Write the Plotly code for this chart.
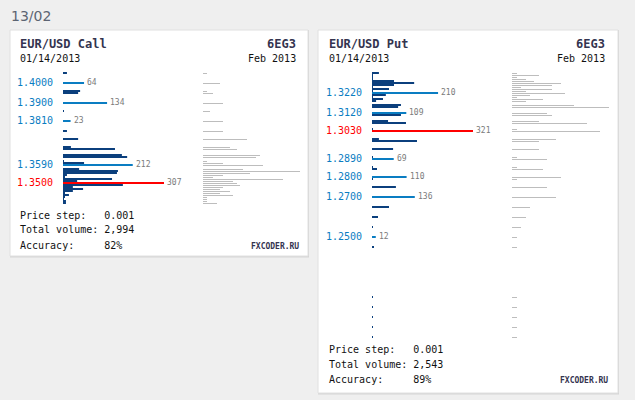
import plotly.graph_objects as go

W, H = 635, 400

# ---- data: EUR/USD Call (6EG3) ----
call_prices = [1.405, 1.400, 1.396, 1.395, 1.390, 1.386, 1.381, 1.376, 1.372, 1.368,
               1.367, 1.364, 1.363, 1.361, 1.360, 1.359, 1.357, 1.356, 1.355, 1.354,
               1.353, 1.352, 1.351, 1.350, 1.349, 1.348, 1.347, 1.346, 1.345, 1.344,
               1.343, 1.342, 1.341, 1.340]
call_volume = [12, 64, 52, 46, 134, 3, 23, 12, 46, 24,
               158, 179, 195, 3, 64, 212, 49, 167, 164, 12,
               6, 149, 43, 307, 182, 30, 61, 30, 6, 18,
               6, 3, 9, 9]
call_oi = [4, 17, 4, 10, 20, 7, 20, 20, 44, 27,
           34, 57, 53, 4, 20, 60, 40, 97, 47, 20,
           10, 80, 30, 34, 37, 20, 17, 27, 17, 30,
           4, 4, 4, 14]
call_marked = [1.400, 1.390, 1.381, 1.359]

# ---- data: EUR/USD Put (6EG3) ----
put_prices = [1.332, 1.331, 1.330, 1.329, 1.328, 1.327, 1.326, 1.325, 1.324, 1.323,
              1.322, 1.321, 1.320, 1.319, 1.318, 1.316, 1.315, 1.312, 1.311, 1.308,
              1.307, 1.304, 1.303, 1.299, 1.298, 1.294, 1.290, 1.289, 1.285, 1.284,
              1.280, 1.279, 1.275, 1.270, 1.265, 1.260, 1.255, 1.250, 1.245, 1.220,
              1.215, 1.210, 1.205, 1.200]
put_volume = [22, 3, 3, 3, 70, 134, 70, 3, 54, 3,
              210, 44, 3, 35, 13, 92, 83, 109, 92, 51,
              108, 3, 321, 22, 143, 67, 3, 69, 3, 16,
              110, 3, 76, 136, 54, 19, 3, 12, 6, 3,
              3, 3, 3, 3]
put_oi = [5, 27, 5, 14, 22, 49, 40, 9, 40, 14,
          53, 18, 5, 31, 14, 62, 97, 35, 40, 27,
          75, 5, 88, 44, 27, 27, 5, 35, 5, 31,
          49, 5, 35, 44, 18, 14, 9, 5, 5, 5,
          5, 5, 5, 5]
put_marked = [1.322, 1.312, 1.289, 1.280, 1.270, 1.250]

DARK = "#0b3f7d"
LIGHT = "#0a7dc2"
RED = "#ff0000"
GREY = "#bdbdbd"
MONO = "DejaVu Sans Mono"


def px(x):
    return x / W


def py(y):
    return 1 - y / H


def colors(prices, vols, marked):
    top = prices[vols.index(max(vols))]
    out = []
    for p in prices:
        if p == top:
            out.append(RED)
        elif p in marked:
            out.append(LIGHT)
        else:
            out.append(DARK)
    return out


fig = go.Figure()

panels = [
    # prices, volume, oi, marked, x-axis blue, x-axis grey, y-axis
    (call_prices, call_volume, call_oi, call_marked, "x", "x2", "y"),
    (put_prices, put_volume, put_oi, put_marked, "x3", "x4", "y3"),
]

for prices, vols, oi, marked, xb, xg, ya in panels:
    cols = colors(prices, vols, marked)
    fig.add_trace(go.Bar(y=prices, x=vols, orientation="h", width=0.001,
                         marker=dict(color=cols, line=dict(width=0)),
                         xaxis=xb, yaxis=ya, hoverinfo="x+y"))
    # 1px grey line, top half of each price row
    fig.add_trace(go.Bar(y=prices, x=oi, orientation="h", width=0.0005, offset=-0.0005,
                         marker=dict(color=GREY, line=dict(width=0)),
                         xaxis=xg, yaxis=ya, hoverinfo="x+y"))
    for p, v, c in zip(prices, vols, cols):
        if c == DARK:
            continue
        # value label next to the bar
        fig.add_annotation(x=v, y=p, xref=xb, yref=ya, text=str(v), showarrow=False,
                           xanchor="left", yanchor="middle", xshift=1,
                           font=dict(family=MONO, size=8, color="#7a7a7a"))

# price labels
for prices, vols, marked, ya, xr in [(call_prices, call_volume, call_marked, "y", 55),
                                     (put_prices, put_volume, put_marked, "y3", 364)]:
    top = prices[vols.index(max(vols))]
    for p in marked + [top]:
        fig.add_annotation(x=px(xr), y=p, xref="paper", yref=ya, text=f"{p:.4f}",
                           showarrow=False, xanchor="right", yanchor="middle",
                           font=dict(family=MONO, size=10, color=RED if p == top else LIGHT))

# cards
shapes = []
for x0, y0, x1, y1 in [(10, 30, 308, 256), (318, 30, 618, 393)]:
    shapes.append(dict(type="rect", xref="paper", yref="paper", layer="below",
                       x0=px(x0), x1=px(x1 + 1), y0=py(y1 + 1.5), y1=py(y0),
                       fillcolor="#d6d6d6", line=dict(width=0)))
    shapes.append(dict(type="rect", xref="paper", yref="paper", layer="below",
                       x0=px(x0), x1=px(x1), y0=py(y1), y1=py(y0),
                       fillcolor="white", line=dict(color="#e0e0e0", width=1)))


def text(x, y, s, anchor="left", size=10, color="#111111", family=MONO):
    fig.add_annotation(x=px(x), y=py(y), xref="paper", yref="paper", text=s,
                       showarrow=False, xanchor=anchor, yanchor="middle",
                       font=dict(family=family, size=size, color=color))


text(9, 16, "13/02", size=14, color="#5c6472", family="DejaVu Sans")

cards = [
    (18, 298, "EUR/USD Call", 215, "2,994", "82%", 301, 246),
    (327, 607, "EUR/USD Put", 349, "2,543", "89%", 610, 380),
]
for xl, xr, title, yb, total, acc, xf, yf in cards:
    text(xl, 44, f"<b>{title}</b>", size=12, color="#34344f")
    text(xr, 44, "<b>6EG3</b>", anchor="right", size=12, color="#34344f")
    text(xl, 58, "01/14/2013")
    text(xr, 58, "Feb 2013", anchor="right")
    text(xl, yb, "Price step:   0.001")
    text(xl, yb + 15, "Total volume: " + total)
    text(xl, yb + 30, "Accuracy:     " + acc)
    text(xf, yf, "<b>FXCODER.RU</b>", anchor="right", size=8, color="#34344f")

hidden = dict(visible=False, fixedrange=True)
fig.update_layout(
    width=W, height=H, margin=dict(l=0, r=0, t=0, b=0),
    paper_bgcolor="#efefef", plot_bgcolor="rgba(0,0,0,0)",
    showlegend=False, barmode="overlay", shapes=shapes,
    xaxis=dict(domain=[px(63), px(164)], range=[0, max(call_volume)], anchor="y", **hidden),
    xaxis2=dict(domain=[px(203), px(303)], range=[0, 100], anchor="y", **hidden),
    yaxis=dict(domain=[py(204), py(72)], range=[1.3395, 1.4055], anchor="x", **hidden),
    xaxis3=dict(domain=[px(372), px(473)], range=[0, max(put_volume)], anchor="y3", **hidden),
    xaxis4=dict(domain=[px(512), px(612)], range=[0, 100], anchor="y3", **hidden),
    yaxis3=dict(domain=[py(338), py(72)], range=[1.1995, 1.3325], anchor="x3", **hidden),
)

fig.write_html("out.html", config={"displayModeBar": False},
               post_script="document.body.style.margin='0';"
               "document.body.style.background='#efefef';")
